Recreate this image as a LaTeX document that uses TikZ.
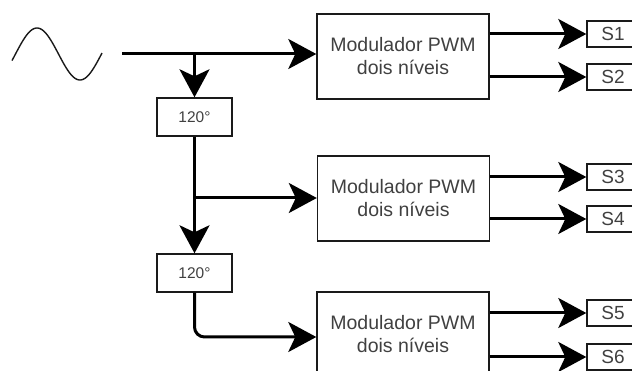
\documentclass[tikz,border=0pt]{standalone}
\usepackage{fontspec}
\setmainfont{Liberation Sans}
\usetikzlibrary{arrows.meta,calc}
\definecolor{txt}{HTML}{404040}
\definecolor{edge}{HTML}{1A1A1A}
\tikzset{
  modbox/.style={draw=edge, line width=1.4pt, minimum width=172pt, minimum height=85pt, inner sep=0pt,
    align=center, text=txt, font=\fontsize{19.5}{23}\selectfont},
  phbox/.style={draw=edge, line width=1.4pt, minimum width=75pt, minimum height=38pt, inner sep=0pt,
    text=txt, font=\fontsize{15.5}{18}\selectfont},
  sbox/.style={draw=edge, line width=1.4pt, minimum width=52pt, minimum height=26pt, inner sep=0pt,
    text=txt, font=\fontsize{19}{22}\selectfont},
  arr/.style={line width=3pt, draw=black, -{Stealth[length=28pt,width=30pt,inset=7pt]}},
  wire/.style={line width=3pt, draw=black}
}
\begin{document}
\begin{tikzpicture}[x=1pt,y=-1pt]
\useasboundingbox (0,0) rectangle (632,371);
\begin{scope}
\clip (0,0) rectangle (632,371);
% sine source
\draw[line width=1.4pt, draw=edge, domain=12:102, samples=80, smooth]
  plot (\x, {54 - 26*sin(4.186*(\x-15.5))});
% modulators
\node[modbox] (m1) at (403,56.5) {Modulador PWM\\dois níveis};
\node[modbox] (m2) at (403.5,198.5) {Modulador PWM\\dois níveis};
\node[modbox] (m3) at (403,334.5) {Modulador PWM\\dois níveis};
% phase shifters
\node[phbox] (p1) at (194.5,117) {120°};
\node[phbox] (p2) at (194.5,273) {120°};
% outputs
\node[sbox] (s1) at (613,34) {S1};
\node[sbox] (s2) at (613,77) {S2};
\node[sbox] (s3) at (613,177) {S3};
\node[sbox] (s4) at (613,219) {S4};
\node[sbox] (s5) at (613,313) {S5};
\node[sbox] (s6) at (613,357) {S6};
% coordinates
\coordinate (src) at (122,54);
\coordinate (j1) at (p1.north |- src);
\coordinate (j2) at (195,198);
\coordinate (k3) at (317,337);
% connectors
\draw[arr] (src) -- (src -| m1.west);
\draw[arr] (j1) -- (p1.north);
\draw[arr] (p1.south) -- (p2.north);
\draw[arr] (j2 -| p1.south) -- (j2 -| m2.west);
\draw[arr, rounded corners=10pt] (p2.south) |- (k3 -| m3.west);
\foreach \m/\a/\b in {m1/s1/s2, m2/s3/s4, m3/s5/s6}{
  \draw[arr] (\a.west -| \m.east) -- (\a.west);
  \draw[arr] (\b.west -| \m.east) -- (\b.west);
}
\end{scope}
\end{tikzpicture}
\end{document}
